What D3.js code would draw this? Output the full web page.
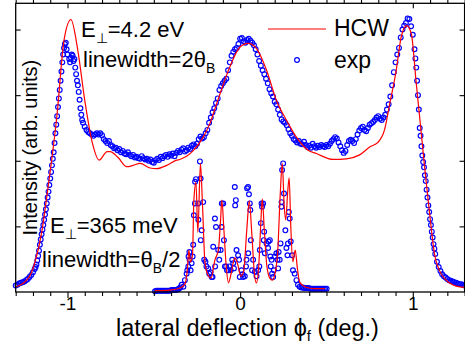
<!DOCTYPE html>
<html>
<head>
<meta charset="utf-8">
<script src="https://cdn.jsdelivr.net/npm/d3@7"></script>
<style>
  body { margin: 0; background: #fff; }
  svg { display: block; }
  text { font-family: "Liberation Sans", Arial, sans-serif; fill: #000; }
</style>
</head>
<body>
<svg id="chart" width="465" height="347"></svg>
<script>
// ---- data: [deflection (deg), intensity (arb.)] ----

// HCW calculation, E_perp = 4.2 eV
const hcwHigh = [
  [-1.30,0.08],[-1.27,0.11],[-1.21,0.29],[-1.19,0.44],[-1.15,0.90],[-1.12,1.45],
  [-1.06,2.72],[-1.02,3.84],[-0.98,4.15],[-0.94,3.68],[-0.90,2.92],[-0.855,2.26],
  [-0.817,2.01],[-0.77,2.14],[-0.753,2.14],[-0.707,2.05],[-0.657,1.91],[-0.62,1.93],
  [-0.58,1.96],[-0.522,1.89],[-0.483,1.88],[-0.425,1.93],[-0.368,2.01],[-0.35,2.02],
  [-0.273,2.15],[-0.214,2.36],[-0.175,2.57],[-0.136,2.87],[-0.06,3.43],[-0.002,3.73],
  [0.046,3.79],[0.095,3.71],[0.153,3.38],[0.21,2.92],[0.268,2.62],[0.326,2.36],
  [0.393,2.16],[0.442,2.11],[0.538,2.02],[0.615,2.03],[0.692,2.09],[0.75,2.21],
  [0.798,2.28],[0.836,2.47],[0.865,2.85],[0.904,3.38],[0.933,3.89],[0.964,4.06],
  [0.991,3.94],[1.02,3.18],[1.049,2.42],[1.068,1.91],[1.087,1.45],[1.106,0.99],
  [1.125,0.59],[1.154,0.33],[1.193,0.18],[1.251,0.09],[1.30,0.07]
];

// measured, E_perp = 4.2 eV
const expHigh = [
  [-1.30,0.10],[-1.29,0.11],[-1.28,0.13],[-1.27,0.14],[-1.26,0.15],[-1.25,0.16],[-1.24,0.18],
  [-1.23,0.20],[-1.22,0.23],[-1.21,0.26],[-1.20,0.30],[-1.19,0.35],[-1.185,0.38],[-1.18,0.42],
  [-1.175,0.48],[-1.17,0.55],[-1.165,0.63],[-1.16,0.72],[-1.155,0.80],[-1.15,0.88],[-1.145,0.95],
  [-1.14,1.02],[-1.135,1.10],[-1.13,1.18],[-1.125,1.26],[-1.12,1.35],[-1.115,1.44],[-1.11,1.53],
  [-1.105,1.63],[-1.10,1.73],[-1.095,1.83],[-1.09,1.93],[-1.085,2.03],[-1.08,2.13],[-1.075,2.27],
  [-1.07,2.42],[-1.065,2.55],[-1.06,2.68],[-1.055,2.82],[-1.05,2.95],[-1.045,3.08],[-1.04,3.22],
  [-1.035,3.36],[-1.03,3.50],[-1.025,3.62],[-1.02,3.72],[-1.015,3.78],[-1.01,3.80],[-1.005,3.70],
  [-1.00,3.62],[-0.99,3.55],[-0.985,3.50],[-0.98,3.57],[-0.975,3.62],[-0.97,3.60],[-0.965,3.52],
  [-0.96,3.55],[-0.955,3.42],[-0.95,3.32],[-0.945,3.22],[-0.94,3.15],[-0.935,3.05],[-0.93,2.93],
  [-0.925,2.80],[-0.92,2.70],[-0.915,2.62],[-0.91,2.58],[-0.90,2.52],[-0.89,2.47],[-0.88,2.44],
  [-0.87,2.42],[-0.86,2.40],[-0.85,2.38],[-0.84,2.40],[-0.83,2.42],[-0.82,2.40],[-0.81,2.42],
  [-0.80,2.39],[-0.79,2.33],[-0.78,2.30],[-0.77,2.27],[-0.76,2.30],[-0.75,2.24],[-0.74,2.22],
  [-0.73,2.19],[-0.72,2.20],[-0.71,2.16],[-0.70,2.18],[-0.69,2.13],[-0.68,2.15],[-0.67,2.11],
  [-0.66,2.10],[-0.65,2.13],[-0.64,2.09],[-0.63,2.07],[-0.62,2.09],[-0.61,2.05],[-0.60,2.06],
  [-0.59,2.04],[-0.58,2.03],[-0.57,2.07],[-0.56,2.04],[-0.55,2.02],[-0.54,2.03],[-0.53,2.00],
  [-0.52,2.02],[-0.51,1.98],[-0.50,1.97],[-0.49,2.01],[-0.48,2.03],[-0.47,2.01],[-0.46,2.06],
  [-0.45,2.04],[-0.44,2.07],[-0.43,2.09],[-0.42,2.06],[-0.41,2.10],[-0.40,2.08],[-0.39,2.11],
  [-0.38,2.07],[-0.37,2.12],[-0.36,2.15],[-0.35,2.13],[-0.34,2.17],[-0.33,2.19],[-0.32,2.14],
  [-0.31,2.16],[-0.30,2.20],[-0.29,2.18],[-0.28,2.23],[-0.27,2.25],[-0.26,2.22],[-0.25,2.26],
  [-0.24,2.33],[-0.23,2.37],[-0.22,2.34],[-0.21,2.36],[-0.20,2.42],[-0.19,2.47],[-0.18,2.58],
  [-0.17,2.66],[-0.16,2.74],[-0.15,2.80],[-0.14,2.88],[-0.13,2.95],[-0.12,3.08],[-0.11,3.14],
  [-0.10,3.18],[-0.09,3.22],[-0.08,3.25],[-0.07,3.38],[-0.06,3.50],[-0.05,3.60],[-0.04,3.66],
  [-0.03,3.70],[-0.02,3.72],[-0.01,3.78],[0.00,3.86],[0.01,3.87],[0.02,3.82],[0.03,3.80],
  [0.04,3.84],[0.05,3.86],[0.06,3.83],[0.07,3.80],[0.08,3.76],[0.09,3.70],[0.10,3.62],
  [0.11,3.52],[0.12,3.45],[0.13,3.38],[0.14,3.32],[0.15,3.25],[0.16,3.18],[0.17,3.09],
  [0.18,3.03],[0.19,2.98],[0.20,2.90],[0.21,2.86],[0.22,2.78],[0.23,2.70],[0.24,2.63],
  [0.25,2.60],[0.26,2.58],[0.27,2.54],[0.28,2.48],[0.29,2.42],[0.30,2.38],[0.31,2.33],
  [0.32,2.31],[0.33,2.28],[0.34,2.30],[0.35,2.26],[0.36,2.25],[0.37,2.29],[0.38,2.24],
  [0.39,2.21],[0.40,2.23],[0.41,2.20],[0.42,2.26],[0.43,2.22],[0.44,2.20],[0.45,2.23],
  [0.46,2.21],[0.47,2.24],[0.48,2.22],[0.49,2.21],[0.50,2.24],[0.51,2.22],[0.52,2.26],
  [0.53,2.30],[0.54,2.33],[0.55,2.36],[0.56,2.34],[0.57,2.28],[0.58,2.22],[0.59,2.16],
  [0.60,2.12],[0.61,2.15],[0.62,2.24],[0.63,2.30],[0.64,2.32],[0.65,2.30],[0.66,2.27],
  [0.67,2.33],[0.68,2.40],[0.69,2.46],[0.70,2.50],[0.71,2.52],[0.72,2.47],[0.73,2.45],
  [0.74,2.50],[0.75,2.55],[0.76,2.57],[0.77,2.59],[0.78,2.62],[0.79,2.66],[0.80,2.68],
  [0.81,2.64],[0.82,2.62],[0.83,2.66],[0.84,2.70],[0.85,2.78],[0.86,2.86],[0.87,2.98],
  [0.88,3.15],[0.89,3.35],[0.90,3.50],[0.91,3.62],[0.92,3.72],[0.93,3.88],[0.94,4.00],
  [0.95,4.06],[0.96,4.10],[0.97,4.17],[0.98,4.16],[0.99,4.05],[1.00,3.92],[1.01,3.70],
  [1.015,3.56],[1.02,3.42],[1.025,3.22],[1.03,3.00],[1.035,2.78],[1.04,2.50],[1.045,2.38],
  [1.05,2.22],[1.055,2.08],[1.06,1.98],[1.065,1.90],[1.07,1.78],[1.075,1.69],[1.08,1.56],
  [1.085,1.44],[1.09,1.32],[1.095,1.22],[1.10,1.11],[1.105,1.02],[1.11,0.92],[1.115,0.83],
  [1.12,0.73],[1.125,0.66],[1.13,0.58],[1.14,0.46],[1.15,0.38],[1.16,0.32],[1.17,0.27],
  [1.18,0.24],[1.19,0.22],[1.20,0.20],[1.21,0.18],[1.22,0.17],[1.23,0.16],[1.24,0.15],
  [1.25,0.14],[1.26,0.13],[1.27,0.12],[1.28,0.12],[1.29,0.11],[1.30,0.10]
];

// HCW calculation, E_perp = 365 meV
const hcwLow = [
  [-0.493,0.02],[-0.406,0.03],[-0.349,0.06],[-0.320,0.12],[-0.305,0.37],[-0.297,0.64],
  [-0.288,0.46],[-0.276,0.56],[-0.268,1.40],[-0.256,1.67],[-0.245,0.91],[-0.230,1.96],
  [-0.218,1.32],[-0.204,0.46],[-0.187,0.26],[-0.169,0.21],[-0.146,0.49],[-0.126,0.64],
  [-0.114,1.07],[-0.106,1.40],[-0.094,0.94],[-0.080,0.37],[-0.068,0.14],[-0.054,0.26],
  [-0.031,0.52],[-0.013,0.41],[0.004,0.24],[0.021,0.33],[0.039,0.97],[0.053,1.39],
  [0.068,0.87],[0.082,0.30],[0.094,0.14],[0.108,0.41],[0.120,1.07],[0.128,1.42],
  [0.140,0.94],[0.154,0.41],[0.172,0.21],[0.186,0.18],[0.201,0.27],[0.218,0.64],
  [0.232,1.48],[0.244,1.96],[0.255,1.32],[0.264,1.10],[0.276,1.55],[0.284,1.74],
  [0.293,1.02],[0.305,0.46],[0.319,0.64],[0.331,0.37],[0.345,0.15],[0.374,0.08],
  [0.432,0.05],[0.49,0.05]
];

// measured, E_perp = 365 meV
const expLow = [
  [-0.493,0.01],[-0.484,0.02],[-0.476,0.02],[-0.467,0.02],[-0.458,0.02],[-0.450,0.02],
  [-0.441,0.02],[-0.432,0.02],[-0.424,0.02],[-0.415,0.02],[-0.406,0.02],[-0.398,0.03],
  [-0.389,0.03],[-0.380,0.03],[-0.372,0.03],[-0.363,0.04],[-0.355,0.05],[-0.347,0.07],
  [-0.339,0.11],[-0.329,0.08],[-0.320,0.18],[-0.310,0.28],[-0.306,0.33],[-0.300,0.39],
  [-0.299,0.54],[-0.294,0.61],[-0.293,0.49],[-0.287,0.33],[-0.281,0.44],[-0.275,0.54],
  [-0.272,0.72],[-0.268,1.17],[-0.262,1.35],[-0.261,1.68],[-0.256,1.72],[-0.243,1.35],
  [-0.242,1.10],[-0.233,1.99],[-0.229,1.73],[-0.228,0.79],[-0.223,0.94],[-0.214,1.37],
  [-0.208,0.49],[-0.201,0.46],[-0.195,0.39],[-0.185,0.36],[-0.179,0.28],[-0.171,0.30],
  [-0.165,0.23],[-0.160,0.23],[-0.156,0.69],[-0.146,1.12],[-0.145,0.39],[-0.140,0.99],
  [-0.127,0.64],[-0.121,0.49],[-0.113,0.64],[-0.108,0.99],[-0.106,1.35],[-0.098,1.35],
  [-0.094,0.79],[-0.088,0.39],[-0.081,0.39],[-0.076,0.33],[-0.068,0.33],[-0.064,0.39],
  [-0.055,0.33],[-0.046,0.49],[-0.040,0.44],[-0.036,0.36],[-0.031,1.60],[-0.029,1.32],
  [-0.025,1.40],[-0.021,0.64],[-0.012,0.56],[-0.006,0.49],[-0.002,0.23],[0.008,0.33],
  [0.014,0.27],[0.017,0.23],[0.027,0.24],[0.034,0.39],[0.037,0.49],[0.040,1.58],
  [0.046,1.60],[0.047,0.59],[0.051,1.49],[0.056,1.35],[0.059,1.25],[0.062,0.79],
  [0.069,0.33],[0.075,0.49],[0.085,0.31],[0.095,0.24],[0.104,0.33],[0.111,0.39],
  [0.114,0.64],[0.120,1.05],[0.124,1.35],[0.127,1.30],[0.133,1.35],[0.137,0.79],
  [0.139,0.92],[0.143,0.59],[0.153,0.74],[0.162,0.67],[0.164,0.77],[0.172,0.79],
  [0.175,0.54],[0.177,0.39],[0.182,0.49],[0.185,0.28],[0.191,0.23],[0.195,0.33],
  [0.201,0.54],[0.210,0.59],[0.216,0.49],[0.220,0.36],[0.223,0.61],[0.229,0.49],
  [0.234,0.74],[0.239,1.30],[0.240,1.37],[0.243,1.86],[0.249,1.96],[0.254,1.50],
  [0.262,0.94],[0.268,0.67],[0.274,0.56],[0.277,0.74],[0.282,1.22],[0.287,1.12],
  [0.293,0.77],[0.301,0.56],[0.306,0.33],[0.316,0.28],[0.326,0.18],[0.335,0.11],
  [0.345,0.08],[0.355,0.07],[0.364,0.07],[0.372,0.06],[0.380,0.06],[0.389,0.06],
  [0.397,0.06],[0.406,0.05],[0.414,0.05],[0.423,0.05],[0.432,0.05],[0.440,0.05],
  [0.449,0.05],[0.458,0.05],[0.466,0.05],[0.475,0.05],[0.484,0.05],[0.492,0.05],[0.501,0.05]
];

const xDomain = [-1.3, 1.3];
const yDomain = [0, 4.4];
const xMajorTicks = [-1, 0, 1];
const xTickLabels = ["-1", "0", "1"];
const yMajorTicks = [1, 2, 3, 4];
const legendLabels = ["HCW", "exp"];

// ---- layout ----
const width = 465, height = 347;
const plot = { left: 15.7, right: 464.6, top: 3.3, bottom: 292 };

const svg = d3.select("#chart");

const x = d3.scaleLinear().domain(xDomain).range([plot.left, plot.right]);
const y = d3.scaleLinear().domain(yDomain).range([plot.bottom, plot.top]);

const line = d3.line()
  .x(d => x(d[0]))
  .y(d => y(d[1]))
  .curve(d3.curveMonotoneX);

// measured points (open blue circles)
function drawExp(data) {
  svg.append("g")
    .selectAll("circle")
    .data(data)
    .enter()
    .append("circle")
      .attr("cx", d => x(d[0]))
      .attr("cy", d => y(d[1]))
      .attr("r", 2.4)
      .attr("fill", "none")
      .attr("stroke", "#0000ff")
      .attr("stroke-width", 1.15);
}
drawExp(expHigh);
drawExp(expLow);

// HCW curves
[hcwHigh, hcwLow].forEach(data => {
  svg.append("path")
    .datum(data)
    .attr("d", line)
    .attr("fill", "none")
    .attr("stroke", "#ff0000")
    .attr("stroke-width", 1.2);
});

// ---- axes ----
const minorX = x.ticks(26).filter(v => !xMajorTicks.some(m => Math.abs(m - v) < 1e-6));

// bottom
svg.append("g")
  .attr("transform", `translate(0,${plot.bottom})`)
  .call(d3.axisBottom(x).tickValues(minorX).tickSize(4).tickFormat(""))
  .call(g => g.select(".domain").remove());
svg.append("g")
  .attr("transform", `translate(0,${plot.bottom})`)
  .call(d3.axisBottom(x).tickValues(xMajorTicks).tickSize(6)
    .tickFormat((d, i) => xTickLabels[i]))
  .call(g => g.select(".domain").remove())
  .call(g => g.selectAll("text")
    .attr("y", 4.5)
    .attr("font-size", 19)
    .style("font-family", '"Liberation Sans", Arial, sans-serif'));

// top (mirror)
svg.append("g")
  .attr("transform", `translate(0,${plot.top})`)
  .call(d3.axisTop(x).tickValues(minorX).tickSize(4).tickFormat(""))
  .call(g => g.select(".domain").remove());
svg.append("g")
  .attr("transform", `translate(0,${plot.top})`)
  .call(d3.axisTop(x).tickValues(xMajorTicks).tickSize(-5).tickFormat(""))
  .call(g => g.select(".domain").remove());

// left / right, ticks inside
svg.append("g")
  .attr("transform", `translate(${plot.left},0)`)
  .call(d3.axisLeft(y).tickValues(yMajorTicks).tickSize(-5).tickFormat(""))
  .call(g => g.select(".domain").remove());
svg.append("g")
  .attr("transform", `translate(${plot.right},0)`)
  .call(d3.axisRight(y).tickValues(yMajorTicks).tickSize(-5).tickFormat(""))
  .call(g => g.select(".domain").remove());

svg.selectAll(".tick line").attr("stroke", "#000").attr("stroke-width", 1.1);

// frame
svg.append("rect")
  .attr("x", plot.left).attr("y", plot.top)
  .attr("width", plot.right - plot.left).attr("height", plot.bottom - plot.top)
  .attr("fill", "none").attr("stroke", "#000").attr("stroke-width", 1.3);

// ---- labels ----
const xl = svg.append("text")
  .attr("x", 116).attr("y", 336).attr("font-size", 23.5);
xl.append("tspan").text("lateral deflection \u03d5");
xl.append("tspan").attr("font-size", 15).attr("dy", 5).text("f");
xl.append("tspan").attr("dy", -5).text(" (deg.)");

svg.append("text")
  .attr("transform", `translate(37,${(plot.top + plot.bottom) / 2}) rotate(-90)`)
  .attr("text-anchor", "middle")
  .attr("font-size", 20)
  .text("Intensity (arb. units)");

function annot(xp, yp, parts) {
  const t = svg.append("text").attr("x", xp).attr("y", yp).attr("font-size", 22);
  parts.forEach(p => {
    const s = t.append("tspan").text(p.t);
    if (p.sub) s.attr("font-size", 14).attr("dy", 6);
    if (p.up) s.attr("dy", -6);
  });
}
annot(81, 37, [{ t: "E" }, { t: "\u22a5", sub: true }, { t: "=4.2 eV", up: true }]);
annot(83, 67, [{ t: "linewidth=2\u03b8" }, { t: "B", sub: true }]);
annot(50, 233, [{ t: "E" }, { t: "\u22a5", sub: true }, { t: "=365 meV", up: true }]);
annot(42, 267, [{ t: "linewidth=\u03b8" }, { t: "B", sub: true }, { t: "/2", up: true }]);

// ---- legend ----
const lg = svg.append("g");
lg.append("line")
  .attr("x1", 268).attr("x2", 326).attr("y1", 29).attr("y2", 29)
  .attr("stroke", "#ff0000").attr("stroke-width", 1.2);
lg.append("circle")
  .attr("cx", 297).attr("cy", 60).attr("r", 2.4)
  .attr("fill", "none").attr("stroke", "#0000ff").attr("stroke-width", 1.15);
lg.selectAll("text.lab")
  .data(legendLabels)
  .enter()
  .append("text")
    .attr("class", "lab")
    .attr("x", 334)
    .attr("y", (d, i) => i === 0 ? 36 : 68)
    .attr("font-size", 23)
    .text(d => d);
</script>
</body>
</html>
